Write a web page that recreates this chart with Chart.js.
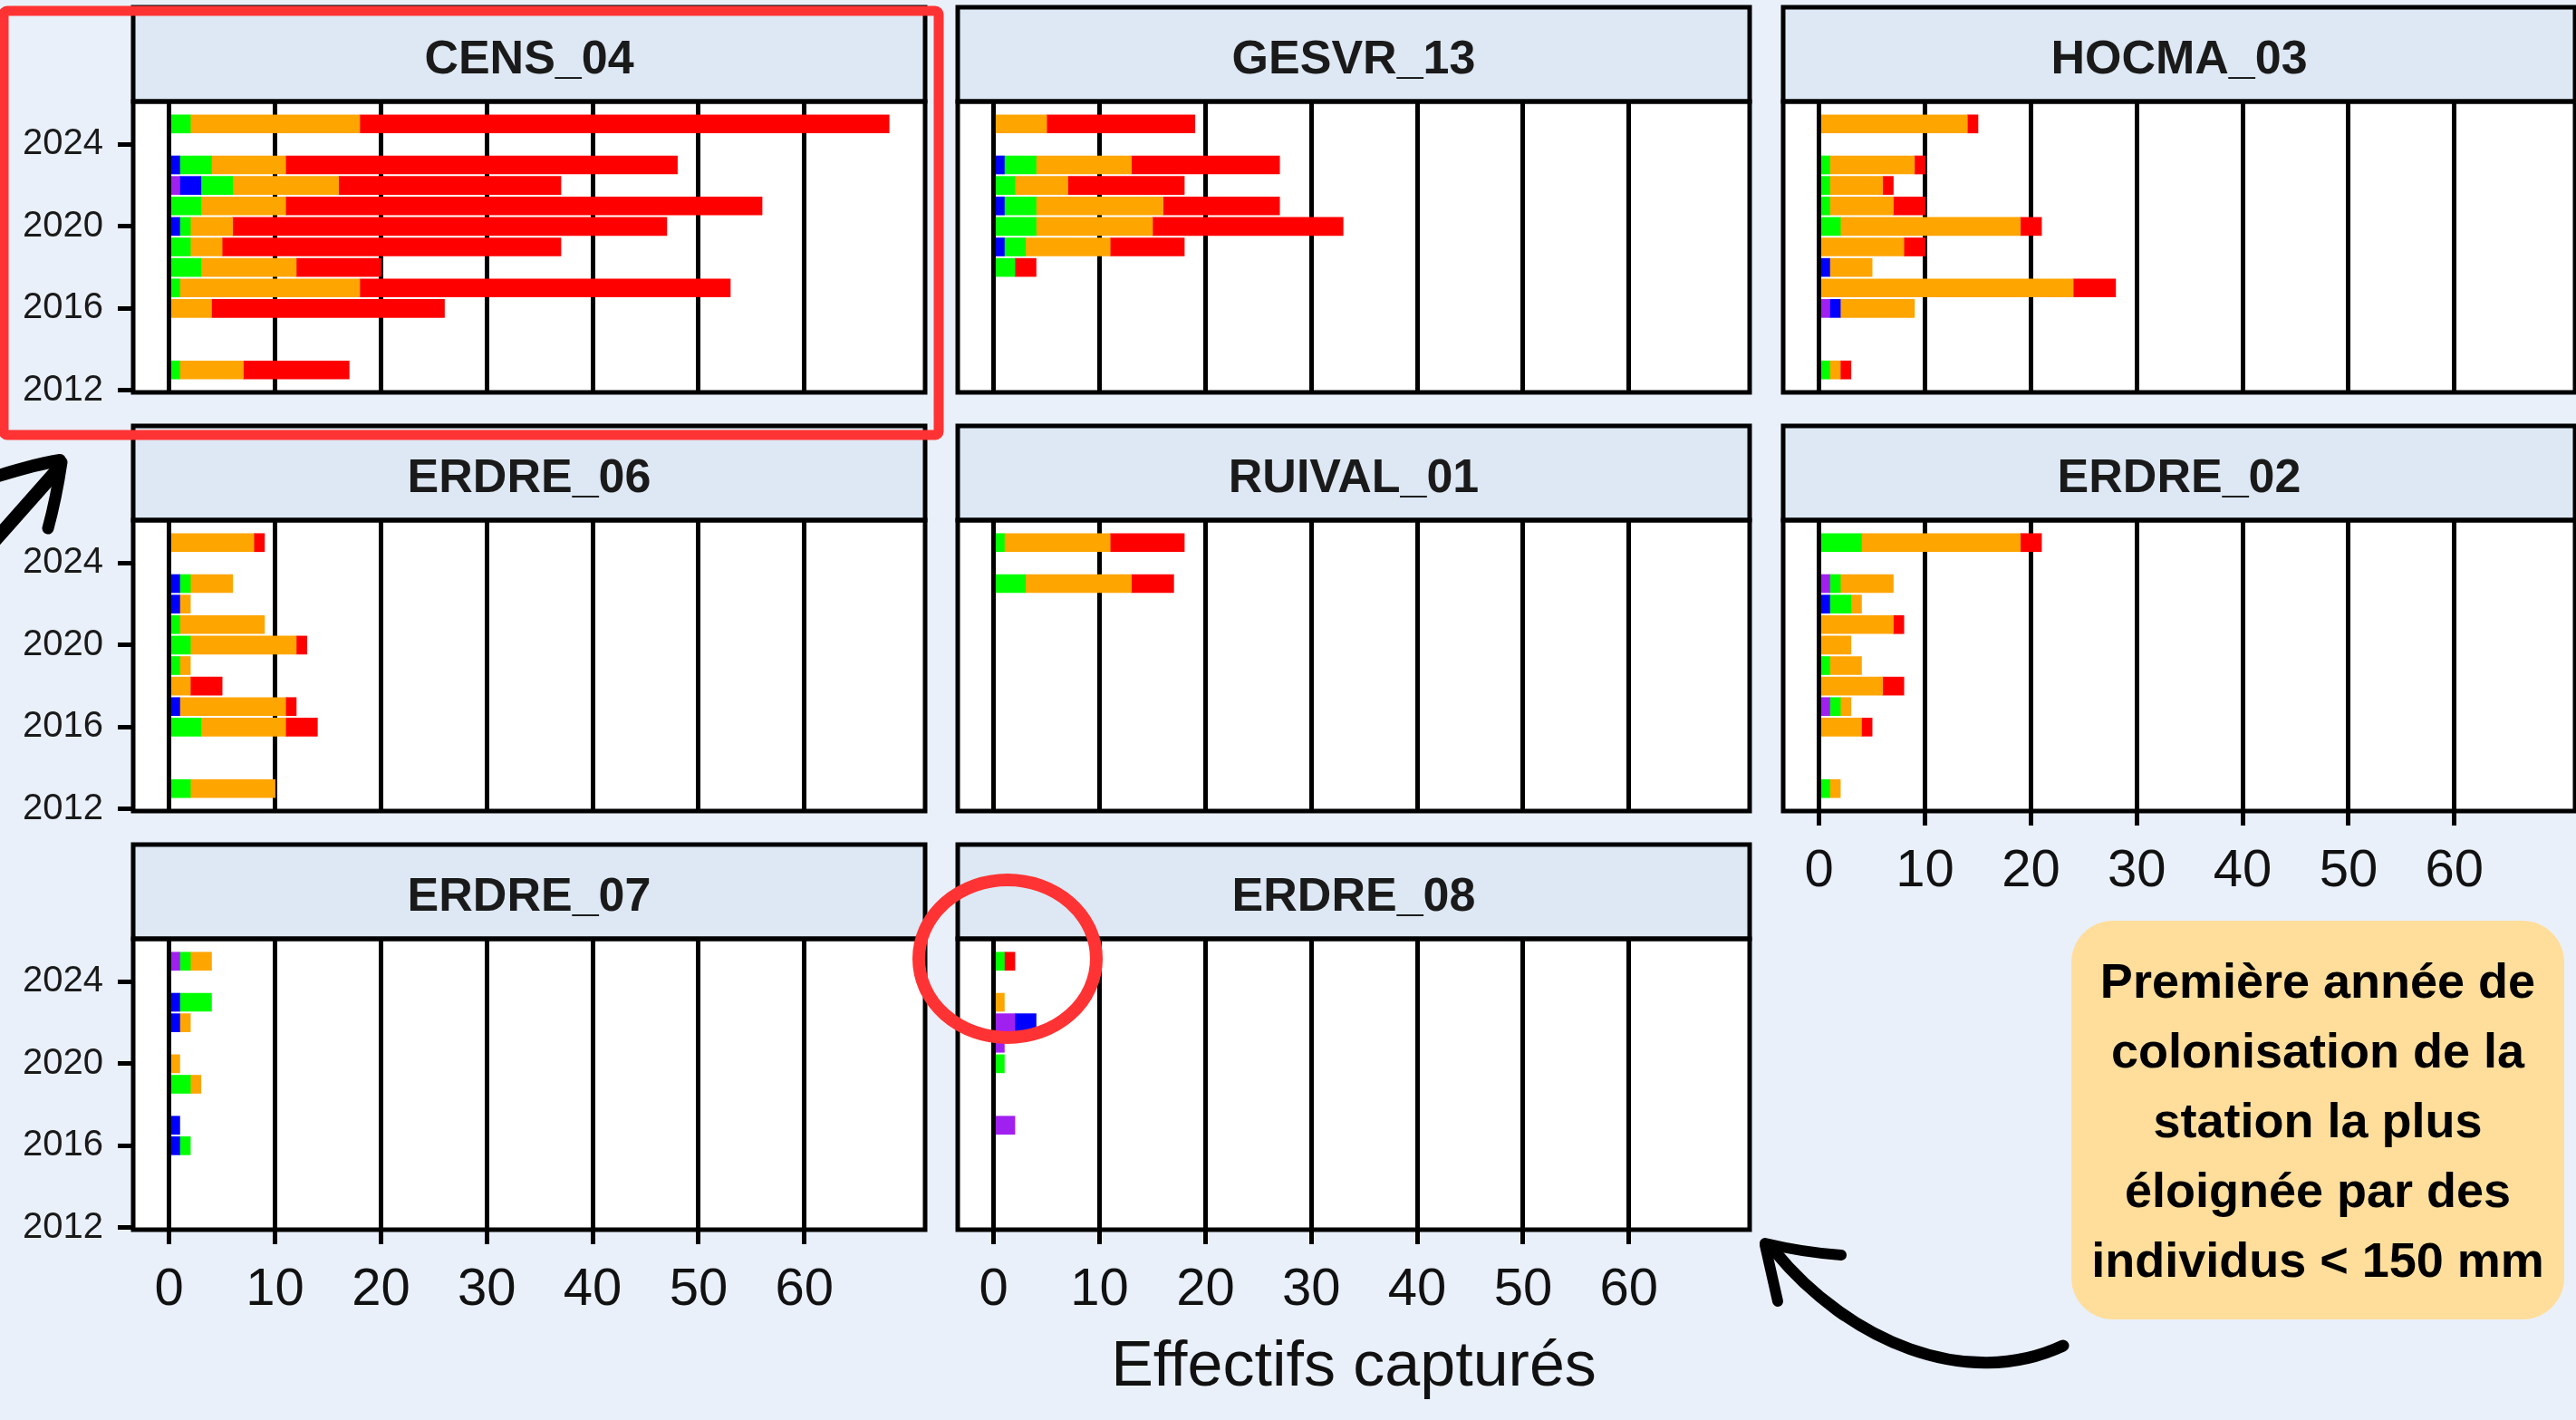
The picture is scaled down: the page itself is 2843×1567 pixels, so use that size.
<!DOCTYPE html>
<html lang="fr">
<head>
<meta charset="utf-8">
<title>Effectifs capturés par station</title>
<script src="https://cdn.jsdelivr.net/npm/chart.js@4.4.1/dist/chart.umd.min.js"></script>
<style>
  html, body { margin: 0; padding: 0; }
  body {
    width: 2843px; height: 1567px; overflow: hidden; position: relative;
    background: #e9f0fa;
    font-family: 'Liberation Sans', Arial, sans-serif;
  }
  canvas.panel { position: absolute; z-index: 1; }
  #note {
    position: absolute; left: 2286px; top: 1016px; width: 544px; height: 440px;
    border-radius: 46px; background: #ffde9c;
    display: flex; align-items: center; justify-content: center; text-align: center;
    font-weight: bold; font-size: 54px; line-height: 77px; color: #000;
  }
  #marks { position: absolute; left: 0; top: 0; z-index: 5; pointer-events: none; }
</style>
</head>
<body>
<div id="note">Première année de<br>colonisation de la<br>station la plus<br>éloignée par des<br>individus &lt; 150 mm</div>
<svg id="marks" width="2843" height="1567">
  <rect x="4" y="12" width="1032" height="468" rx="4" fill="none" stroke="#ff3333" stroke-width="11"/>
  <ellipse cx="1112" cy="1058" rx="98" ry="87" fill="none" stroke="#ff3333" stroke-width="14"/>
  <g stroke="#000" stroke-linecap="round" fill="none">
    <path d="M -15 607 L 62 520" stroke-width="15"/>
    <path d="M 66 508 Q 40 512 -5 526" stroke-width="14"/>
    <path d="M 68 510 Q 62 550 53 583" stroke-width="13"/>
    <path d="M 2277 1485 C 2170 1535 2040 1480 1958 1380" stroke-width="13"/>
    <path d="M 1948 1372 Q 1990 1382 2032 1385" stroke-width="12"/>
    <path d="M 1948 1374 Q 1955 1405 1962 1436" stroke-width="12"/>
  </g>
</svg>
<script>
// Stations (one facet each), in reading order
const stations = ["CENS_04", "GESVR_13", "HOCMA_03", "ERDRE_06", "RUIVAL_01", "ERDRE_02", "ERDRE_07", "ERDRE_08"];
// Sampling years
const years = [2013, 2016, 2017, 2018, 2019, 2020, 2021, 2022, 2023, 2025];

// Catches per size class: one row per station, one value per year above
const purpleCounts = [
  [0, 0, 0, 0, 0, 0, 0, 1, 0, 0],
  [0, 0, 0, 0, 0, 0, 0, 0, 0, 0],
  [0, 1, 0, 0, 0, 0, 0, 0, 0, 0],
  [0, 0, 0, 0, 0, 0, 0, 0, 0, 0],
  [0, 0, 0, 0, 0, 0, 0, 0, 0, 0],
  [0, 0, 1, 0, 0, 0, 0, 0, 1, 0],
  [0, 0, 0, 0, 0, 0, 0, 0, 0, 1],
  [0, 0, 2, 0, 0, 0, 1, 2, 0, 0]
];
const blueCounts = [
  [0, 0, 0, 0, 0, 1, 0, 2, 1, 0],
  [0, 0, 0, 0, 1, 0, 1, 0, 1, 0],
  [0, 1, 0, 1, 0, 0, 0, 0, 0, 0],
  [0, 0, 1, 0, 0, 0, 0, 1, 1, 0],
  [0, 0, 0, 0, 0, 0, 0, 0, 0, 0],
  [0, 0, 0, 0, 0, 0, 0, 1, 0, 0],
  [0, 1, 1, 0, 0, 0, 0, 1, 1, 0],
  [0, 0, 0, 0, 0, 0, 0, 2, 0, 0]
];
const greenCounts = [
  [1, 0, 1, 3, 2, 1, 3, 3, 3, 2],
  [0, 0, 0, 2, 2, 4, 3, 2, 3, 0],
  [1, 0, 0, 0, 0, 2, 1, 1, 1, 0],
  [2, 3, 0, 0, 1, 2, 1, 0, 1, 0],
  [0, 0, 0, 0, 0, 0, 0, 0, 3, 1],
  [1, 0, 1, 0, 1, 0, 0, 2, 1, 4],
  [0, 1, 0, 0, 2, 0, 0, 0, 3, 1],
  [0, 0, 0, 0, 0, 1, 0, 0, 0, 1]
];
const orangeCounts = [
  [6, 4, 17, 9, 3, 4, 8, 10, 7, 16],
  [0, 0, 0, 0, 8, 11, 12, 5, 9, 5],
  [1, 7, 24, 4, 8, 17, 6, 5, 8, 14],
  [8, 8, 10, 2, 1, 10, 8, 1, 4, 8],
  [0, 0, 0, 0, 0, 0, 0, 0, 10, 10],
  [1, 4, 1, 6, 3, 3, 7, 1, 5, 15],
  [0, 0, 0, 0, 1, 1, 0, 1, 0, 2],
  [0, 0, 0, 0, 0, 0, 0, 0, 1, 0]
];
const redCounts = [
  [10, 22, 35, 8, 32, 41, 45, 21, 37, 50],
  [0, 0, 0, 2, 7, 18, 11, 11, 14, 14],
  [1, 0, 4, 0, 2, 2, 3, 1, 1, 1],
  [0, 3, 1, 3, 0, 1, 0, 0, 0, 1],
  [0, 0, 0, 0, 0, 0, 0, 0, 4, 7],
  [0, 1, 0, 2, 0, 0, 1, 0, 0, 2],
  [0, 0, 0, 0, 0, 0, 0, 0, 0, 0],
  [0, 0, 0, 0, 0, 0, 0, 0, 0, 1]
];

// Axis ticks
const xTicks = [0, 10, 20, 30, 40, 50, 60];
const yTicks = [2012, 2016, 2020, 2024];

// Stack order, left to right
const classCounts = [purpleCounts, blueCounts, greenCounts, orangeCounts, redCounts];
const classColors = ["#a020f0", "#0000ff", "#00ff00", "#ffa500", "#ff0000"];

// Facet layout (page pixels)
const colLeft = [147, 1057, 1968];
const rowTop = [8, 470, 932];
const plotW = 874, stripH = 104, plotH = 321;
const yAxisW = 147, margin = 6, bottomPad = 50;
const fontFamily = "'Liberation Sans', Arial, sans-serif";

// Draws the strip with the station name and the black panel frame
const stripFrame = {
  id: "stripFrame",
  beforeDraw(chart) {
    const { ctx, chartArea: a } = chart;
    ctx.save();
    ctx.fillStyle = "#ffffff";
    ctx.fillRect(a.left, a.top, a.right - a.left, a.bottom - a.top);
    ctx.fillStyle = "#dde8f4";
    ctx.fillRect(a.left, a.top - stripH, a.right - a.left, stripH);
    ctx.restore();
  },
  afterDraw(chart, args, opts) {
    const { ctx, chartArea: a } = chart;
    ctx.save();
    ctx.lineWidth = 5;
    ctx.strokeStyle = "#000";
    ctx.strokeRect(a.left, a.top - stripH, a.right - a.left, stripH);
    ctx.strokeRect(a.left, a.top, a.right - a.left, a.bottom - a.top);
    ctx.fillStyle = "#1a1a1a";
    ctx.font = "bold 52px " + fontFamily;
    ctx.textAlign = "center";
    ctx.textBaseline = "middle";
    ctx.fillText(opts.label, (a.left + a.right) / 2, a.top - stripH / 2 + 7);
    ctx.restore();
  }
};

function drawPanel(i) {
  const col = i % 3, row = Math.floor(i / 3);
  const hasY = col === 0;
  const hasX = i + 3 >= stations.length;
  const hasTitle = stations[i] === "ERDRE_08";
  const xH = hasTitle ? 200 : (hasX ? 100 : 0);
  const yW = hasY ? yAxisW : 0;

  const canvas = document.createElement("canvas");
  canvas.className = "panel";
  const w = yW + plotW + 2 * margin;
  const h = stripH + plotH + xH + margin + bottomPad;
  canvas.width = w;
  canvas.height = h;
  canvas.style.width = w + "px";
  canvas.style.height = h + "px";
  canvas.style.left = (colLeft[col] - yW - margin) + "px";
  canvas.style.top = (rowTop[row] - margin) + "px";
  document.body.appendChild(canvas);

  const datasets = classCounts.map((counts, k) => ({
    data: years.map((yr, j) => ({ x: counts[i][j], y: yr })).filter(p => p.x > 0),
    backgroundColor: classColors[k],
    borderWidth: 0,
    barThickness: 20
  }));

  new Chart(canvas, {
    type: "bar",
    data: { datasets },
    plugins: [stripFrame],
    options: {
      indexAxis: "y",
      responsive: false,
      animation: false,
      devicePixelRatio: 1,
      layout: { padding: { left: margin, right: margin, top: margin + stripH, bottom: bottomPad } },
      plugins: {
        legend: { display: false },
        tooltip: { enabled: false },
        stripFrame: { label: stations[i] }
      },
      scales: {
        x: {
          type: "linear",
          stacked: true,
          offset: false,
          min: -3.4,
          max: 71.4,
          afterBuildTicks: s => { s.ticks = xTicks.map(v => ({ value: v })); },
          afterFit: s => { s.height = xH; },
          grid: { offset: false, color: "#000", lineWidth: 5, drawTicks: hasX, tickLength: 16, tickColor: "#000", tickWidth: 5 },
          border: { display: false },
          ticks: { display: hasX, font: { size: 58, family: fontFamily }, color: "#111", padding: 16, maxRotation: 0, autoSkip: false },
          title: {
            display: hasTitle,
            text: "Effectifs capturés",
            font: { size: 70, family: fontFamily },
            color: "#111",
            padding: { top: 0, bottom: 5 }
          }
        },
        y: {
          type: "linear",
          stacked: true,
          offset: false,
          display: hasY,
          min: 2011.905,
          max: 2026.095,
          afterBuildTicks: s => { s.ticks = yTicks.map(v => ({ value: v })); },
          afterFit: s => { s.width = yW; },
          grid: { offset: false, drawOnChartArea: false, drawTicks: true, tickLength: 17, tickColor: "#000", tickWidth: 5 },
          border: { display: false },
          ticks: { font: { size: 40, family: fontFamily }, color: "#1a1a1a", padding: 16, callback: v => String(v) }
        }
      }
    }
  });
}

stations.forEach((name, i) => drawPanel(i));
</script>
</body>
</html>
